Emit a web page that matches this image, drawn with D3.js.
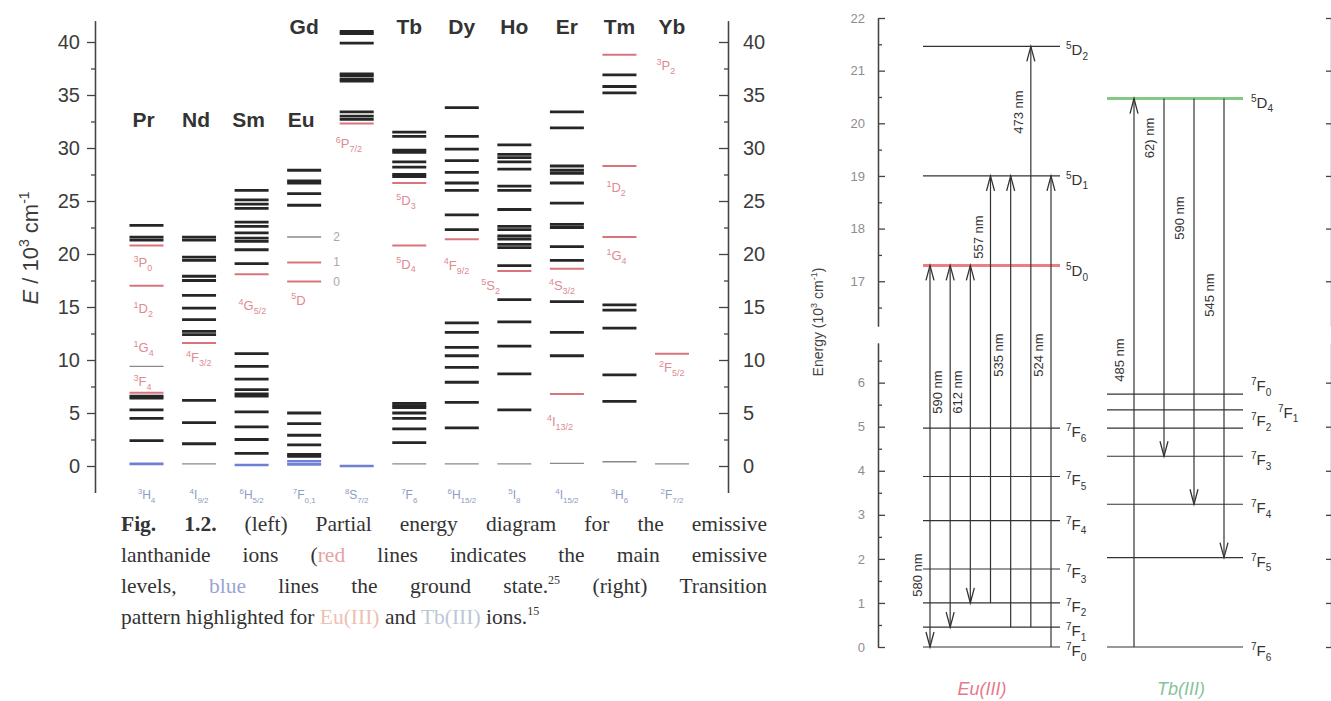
<!DOCTYPE html>
<html>
<head>
<meta charset="utf-8">
<script src="https://cdn.jsdelivr.net/npm/d3@7"></script>
<style>
  body { margin: 0; background: #fff; }
  #wrap { position: relative; width: 1331px; height: 701px; overflow: hidden; }
  #chart { position: absolute; left: 0; top: 0; }
  #caption { position: absolute; left: 121px; top: 509px; width: 646px;
    font-family: "Liberation Serif", "Times New Roman", serif; font-size: 21.5px;
    line-height: 31px; color: #333; }
  #caption .j { text-align: justify; text-align-last: justify; }
  #caption sup { font-size: 12px; vertical-align: 9px; line-height: 0; }
</style>
</head>
<body>
<div id="wrap">
<svg id="chart"></svg>
<div id="caption">
  <div class="j"><b>Fig. 1.2.</b> (left) Partial energy diagram for the emissive</div>
  <div class="j">lanthanide ions (<span style="color:#e6a2a2">red</span> lines indicates the main emissive</div>
  <div class="j">levels, <span style="color:#9aa5d4">blue</span> lines the ground state.<sup>25</sup> (right) Transition</div>
  <div>pattern highlighted for <span style="color:#efc0b0">Eu(III)</span> and <span style="color:#bcc8d6">Tb(III)</span> ions.<sup>15</sup></div>
</div>
</div>
<script>
// ---------- left panel: energy levels of Ln(III) ions (10^3 cm-1) ----------
const ions = ["Pr", "Nd", "Sm", "Eu", "Gd", "Tb", "Dy", "Ho", "Er", "Tm", "Yb"];
const groundTerms = ["3|H|4", "4|I|9/2", "6|H|5/2", "7|F|0,1", "8|S|7/2", "7|F|6",
                     "6|H|15/2", "5|I|8", "4|I|15/2", "3|H|6", "2|F|7/2"];

const blackLevels = [
  [22.7, 21.6, 21.3, 6.6, 6.4, 5.3, 4.5, 2.4],
  [21.6, 21.3, 19.7, 19.4, 17.9, 17.5, 16.1, 14.9, 13.8, 12.7, 12.4, 6.2, 4.1, 2.1],
  [26.0, 25.1, 24.7, 24.3, 23.0, 22.6, 22.0, 21.5, 21.2, 20.4, 19.1,
   10.6, 9.4, 8.2, 7.2, 6.8, 6.6, 5.1, 3.7, 2.5, 1.2],
  [27.9, 26.9, 26.7, 25.7, 24.6, 5.0, 4.0, 2.9, 2.0, 1.1, 0.9],
  [41.0, 40.8, 39.9, 37.0, 36.8, 36.5, 36.3, 33.4, 33.0, 32.7],
  [31.5, 31.1, 29.8, 29.6, 28.7, 28.2, 27.5, 27.3, 5.9, 5.7, 5.5, 5.0, 4.5, 3.5, 2.2],
  [33.8, 31.1, 29.9, 28.8, 27.7, 26.7, 26.0, 23.7, 22.3, 13.5, 12.6, 11.2, 10.4, 9.3, 7.9, 6.0, 3.6],
  [30.3, 29.4, 29.1, 28.7, 28.0, 26.4, 26.0, 24.2, 22.6, 22.3, 21.7, 21.4, 20.9, 20.6, 18.9,
   15.7, 13.6, 11.3, 8.7, 5.3],
  [33.4, 31.9, 28.3, 27.9, 27.6, 26.7, 24.8, 22.8, 22.5, 20.7, 19.4, 15.5, 12.6, 10.4],
  [36.9, 35.8, 35.2, 15.2, 14.7, 13.0, 8.6, 6.1],
  []
];
const redLevels = [
  [20.8, 17.0, 6.9], [11.6], [18.1], [19.2, 17.4], [32.3], [26.7, 20.8],
  [21.4], [18.4], [18.6, 6.8], [38.8, 28.3, 21.6], [10.6]
];
const blueLevels = [[0.2], [], [0.1], [0.15, 0.45], [0.0], [], [], [], [], [], []];
const greyLevels = [[9.4], [0.2], [], [21.6], [], [0.2], [0.2], [0.2], [0.25], [0.4], [0.2]];

// emissive-level term labels (ion, term, energy where the label sits)
const termIon    = ["Pr", "Pr", "Pr", "Pr", "Nd", "Sm", "Eu", "Gd", "Tb", "Tb", "Dy", "Ho", "Er", "Er", "Tm", "Tm", "Tm", "Yb"];
const termName   = ["3|P|0", "1|D|2", "1|G|4", "3|F|4", "4|F|3/2", "4|G|5/2", "5|D|", "6|P|7/2", "5|D|3", "5|D|4",
                    "4|F|9/2", "5|S|2", "4|S|3/2", "4|I|13/2", "3|P|2", "1|D|2", "1|G|4", "2|F|5/2"];
const termEnergy = [19.2, 14.9, 11.2, 8.0, 10.3, 15.2, 15.7, 30.5, 25.1, 19.1,
                    19.0, 17.1, 17.1, 4.2, 37.8, 26.3, 19.9, 9.3];
const euJ = ["2", "1", "0"];
const euJEnergy = [21.6, 19.2, 17.4];

const majorTicksL = d3.range(0, 41, 5);
const minorTicksL = d3.range(2.5, 40, 5);

// ---------- right panel: Eu(III) / Tb(III) transitions ----------
const euLevelName = ["5|D|2", "5|D|1", "5|D|0", "7|F|6", "7|F|5", "7|F|4", "7|F|3", "7|F|2", "7|F|1", "7|F|0"];
const euLevelE    = [21.46, 19.0, 17.3, 4.97, 3.87, 2.87, 1.77, 1.0, 0.45, 0];
const tbLevelName = ["5|D|4", "7|F|0", "7|F|1", "7|F|2", "7|F|3", "7|F|4", "7|F|5", "7|F|6"];
const tbLevelE    = [20.47, 5.74, 5.38, 4.97, 4.33, 3.24, 2.03, 0];

const euUpper = ["5|D|0", "5|D|0", "5|D|0", "5|D|1", "5|D|1", "5|D|2", "5|D|1"];
const euLower = ["7|F|0", "7|F|1", "7|F|2", "7|F|2", "7|F|1", "7|F|1", "7|F|0"];
const euNm    = ["580 nm", "590 nm", "612 nm", "557 nm", "535 nm", "473 nm", "524 nm"];
const euBoth  = [true, true, true, false, false, false, false];

const tbUpper = ["5|D|4", "5|D|4", "5|D|4", "5|D|4"];
const tbLower = ["7|F|6", "7|F|3", "7|F|4", "7|F|5"];
const tbNm    = ["485 nm", "62) nm", "590 nm", "545 nm"];
const tbUp    = [true, false, false, false];

const ticksTop = d3.range(17, 23);
const ticksLow = d3.range(0, 7);

// ===================================================================
const svg = d3.select("#chart").attr("width", 1331).attr("height", 701);
svg.append("rect").attr("width", 1331).attr("height", 701).attr("fill", "#fff");

function term(sel, code, fs) {
  const [sup, main, sub] = code.split("|");
  const small = Math.round(fs * 0.66);
  sel.append("tspan").attr("font-size", small).attr("dy", -fs * 0.4).text(sup);
  sel.append("tspan").attr("font-size", fs).attr("dy", fs * 0.4).text(main);
  if (sub) sel.append("tspan").attr("font-size", small).attr("dy", fs * 0.3).text(sub);
  return sel;
}

// ---- left ----
const yL = d3.scaleLinear().domain([-2.5, 42]).range([492.5, 20.8]);
const xL = d3.scalePoint().domain(ions).range([146.5, 672]);
const half = 17;

const axL = svg.append("g").attr("transform", "translate(95,0)")
  .call(d3.axisLeft(yL).tickValues(majorTicksL).tickSize(8).tickSizeOuter(0).tickPadding(7));
svg.append("g").attr("transform", "translate(95,0)")
  .call(d3.axisLeft(yL).tickValues(minorTicksL).tickSize(4).tickSizeOuter(0).tickFormat(""));
const axR = svg.append("g").attr("transform", "translate(728,0)")
  .call(d3.axisRight(yL).tickValues(majorTicksL).tickSize(-9).tickSizeOuter(0).tickPadding(15));
svg.append("g").attr("transform", "translate(728,0)")
  .call(d3.axisRight(yL).tickValues(minorTicksL).tickSize(-4).tickSizeOuter(0).tickFormat(""));
svg.selectAll(".domain, .tick line").attr("stroke", "#444").attr("stroke-width", 1.4);
[axL, axR].forEach(a => a.selectAll("text").attr("font-family", "Liberation Sans, Arial, sans-serif")
  .attr("font-size", 20).attr("fill", "#3c3c3c"));

const yLabel = svg.append("text").attr("transform", "translate(38,248) rotate(-90)")
  .attr("text-anchor", "middle").attr("font-family", "Liberation Sans, Arial, sans-serif")
  .attr("font-size", 22).attr("fill", "#3c3c3c");
yLabel.append("tspan").attr("font-style", "italic").text("E");
yLabel.append("tspan").text(" / 10");
yLabel.append("tspan").attr("font-size", 14).attr("dy", -9).text("3");
yLabel.append("tspan").attr("dy", 9).text(" cm");
yLabel.append("tspan").attr("font-size", 14).attr("dy", -9).text("-1");

function drawLevels(list, color, width) {
  ions.forEach((ion, i) => {
    svg.append("g").selectAll("line").data(list[i]).join("line")
      .attr("x1", xL(ion) - half).attr("x2", xL(ion) + half)
      .attr("y1", d => yL(d)).attr("y2", d => yL(d))
      .attr("stroke", color).attr("stroke-width", width);
  });
}
drawLevels(greyLevels, "#8a8a8a", 1.4);
drawLevels(blackLevels, "#262626", 2.8);
drawLevels(redLevels, "#d9737c", 2);
drawLevels(blueLevels, "#6f80d4", 2.6);

// ion symbols (Gd sits one column to the left, above Eu)
const step = xL.step();
svg.append("g").selectAll("text").data(ions).join("text")
  .attr("x", (d, i) => xL(d) - (d === "Gd" ? step : 0) - (i < 4 ? 3 : 0))
  .attr("y", (d, i) => i < 4 ? 127 : 34)
  .attr("text-anchor", "middle").attr("font-family", "Liberation Sans, Arial, sans-serif")
  .attr("font-weight", "bold").attr("font-size", 21).attr("fill", "#333").text(d => d);

// ground terms
ions.forEach((ion, i) => {
  term(svg.append("text").attr("x", xL(ion)).attr("y", 499).attr("text-anchor", "middle")
    .attr("font-family", "Liberation Sans, Arial, sans-serif").attr("fill", "#8e9bc4"),
    groundTerms[i], 12);
});

// emissive term labels
const termShift = { "3|P|2": 37, "5|S|2": -33, "6|P|7/2": -21, "4|F|9/2": -18, "4|S|3/2": -18, "4|I|13/2": -20 };
termName.forEach((t, i) => {
  const dx = termShift[t] !== undefined ? termShift[t] : -13;
  term(svg.append("text").attr("x", xL(termIon[i]) + dx).attr("y", yL(termEnergy[i]) + 5)
    .attr("font-family", "Liberation Sans, Arial, sans-serif").attr("fill", "#e08a92"),
    t, 13);
});
svg.append("g").selectAll("text").data(euJ).join("text")
  .attr("x", xL("Eu") + 29).attr("y", (d, i) => yL(euJEnergy[i]) + 4)
  .attr("font-family", "Liberation Sans, Arial, sans-serif").attr("font-size", 12)
  .attr("fill", "#a8a8a8").text(d => d);

// ---- right ----
const yTop = d3.scaleLinear().domain([16.15, 22]).range([326, 18]);
const yLow = d3.scaleLinear().domain([0, 6.9]).range([647, 343]);
const yE = e => e >= 16 ? yTop(e) : yLow(e);
const axX = 878;
const rFont = "Liberation Sans, Arial, sans-serif";

[[yTop, ticksTop, d3.range(16.5, 22, 1)], [yLow, ticksLow, d3.range(0.5, 6.9, 1)]].forEach(([sc, tv, mv]) => {
  const g = svg.append("g").attr("transform", `translate(${axX},0)`)
    .call(d3.axisLeft(sc).tickValues(tv).tickFormat(d3.format("d"))
      .tickSizeInner(-7).tickSizeOuter(0).tickPadding(13));
  g.selectAll("text").attr("font-family", rFont).attr("font-size", 13).attr("fill", "#8d8d8d");
  svg.append("g").attr("transform", `translate(${axX},0)`)
    .call(d3.axisLeft(sc).tickValues(mv).tickSizeInner(-4).tickSizeOuter(0).tickFormat(""));
  svg.append("g").attr("transform", "translate(1331,0)")
    .call(d3.axisRight(sc).tickValues(tv).tickSizeInner(-5).tickSizeOuter(0).tickFormat(""));
});
svg.selectAll(".domain, .tick line").attr("stroke", "#444").attr("stroke-width", 1.3);

const eLabel = svg.append("text").attr("transform", "translate(823,322) rotate(-90)")
  .attr("text-anchor", "middle").attr("font-family", rFont).attr("font-size", 14).attr("fill", "#444");
eLabel.append("tspan").text("Energy (10");
eLabel.append("tspan").attr("font-size", 9).attr("dy", -6).text("3");
eLabel.append("tspan").attr("dy", 6).text(" cm");
eLabel.append("tspan").attr("font-size", 9).attr("dy", -6).text("-1");
eLabel.append("tspan").attr("dy", 6).text(")");

function levels(names, energies, x0, x1, hiName, hiColor, labelX, nudge) {
  names.forEach((n, i) => {
    const y = yE(energies[i]);
    const hi = n === hiName;
    svg.append("line").attr("x1", x0).attr("x2", x1).attr("y1", y).attr("y2", y)
      .attr("stroke", hi ? hiColor : "#333").attr("stroke-width", hi ? 3 : 1.2);
    const nd = nudge[n] || [0, 0];
    term(svg.append("text").attr("x", labelX + nd[0]).attr("y", y + 9 + nd[1])
      .attr("font-family", rFont).attr("fill", "#333"), n, 15);
  });
}
levels(euLevelName, euLevelE, 923, 1060, "5|D|0", "#ec7f7f", 1066, { "5|D|0": [0, 2] });
levels(tbLevelName, tbLevelE, 1107, 1243, "5|D|4", "#86c986", 1251,
  { "7|F|0": [0, -12], "7|F|1": [27, -1], "7|F|2": [0, -11] });

function arrowHead(x, y, dir) { // dir -1: tip points up, +1: down
  svg.append("path").attr("d", `M${x - 4},${y - dir * 15}L${x},${y}L${x + 4},${y - dir * 15}`)
    .attr("fill", "none").attr("stroke", "#333").attr("stroke-width", 1.3);
}
function nmLabel(x, y, t) {
  svg.append("text").attr("transform", `translate(${x},${y}) rotate(-90)`).attr("text-anchor", "middle")
    .attr("font-family", rFont).attr("font-size", 13).attr("fill", "#333").text(t);
}

const euE = n => yE(euLevelE[euLevelName.indexOf(n)]);
const tbE = n => yE(tbLevelE[tbLevelName.indexOf(n)]);
const xEu = d3.scalePoint().domain(d3.range(euNm.length)).range([930, 1051]);
const xTb = d3.scalePoint().domain(d3.range(tbNm.length)).range([1134, 1224]);
const euLabelY = [575, 392, 392, 237, 355, 112, 355];
const tbLabelY = [360, 138, 218, 295];

euNm.forEach((t, i) => {
  const x = xEu(i), yU = euE(euUpper[i]), yLo = euE(euLower[i]);
  svg.append("line").attr("x1", x).attr("x2", x).attr("y1", yU).attr("y2", yLo)
    .attr("stroke", "#333").attr("stroke-width", 1.2);
  arrowHead(x, yU, -1);
  if (euBoth[i]) arrowHead(x, yLo, 1);
  nmLabel(x - 8, euLabelY[i], t);
});
tbNm.forEach((t, i) => {
  const x = xTb(i), yU = tbE(tbUpper[i]), yLo = tbE(tbLower[i]);
  svg.append("line").attr("x1", x).attr("x2", x).attr("y1", yU).attr("y2", yLo)
    .attr("stroke", "#333").attr("stroke-width", 1.2);
  if (tbUp[i]) arrowHead(x, yU, -1); else arrowHead(x, yLo, 1);
  nmLabel(x - 10, tbLabelY[i], t);
});

svg.append("text").attr("x", 982).attr("y", 695).attr("text-anchor", "middle")
  .attr("font-family", rFont).attr("font-style", "italic").attr("font-size", 18)
  .attr("fill", "#e6798c").text("Eu(III)");
svg.append("text").attr("x", 1181).attr("y", 695).attr("text-anchor", "middle")
  .attr("font-family", rFont).attr("font-style", "italic").attr("font-size", 18)
  .attr("fill", "#86c398").text("Tb(III)");
</script>
</body>
</html>
